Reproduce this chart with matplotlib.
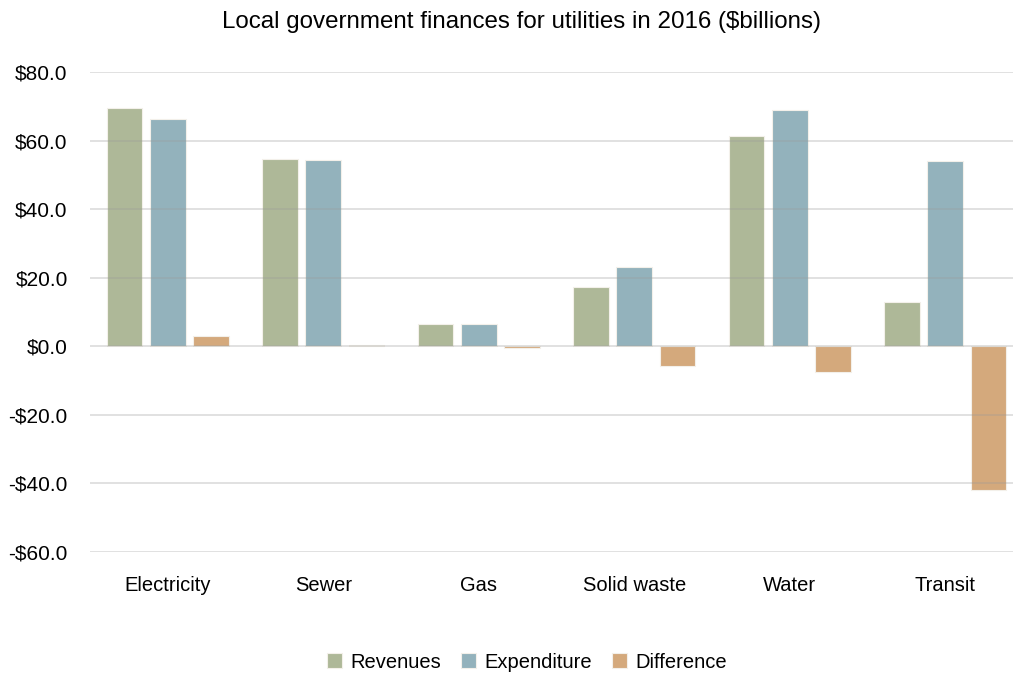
import numpy as np
import matplotlib
matplotlib.use("Agg")
import matplotlib.pyplot as plt
from matplotlib.ticker import FuncFormatter

plt.rcParams['font.family'] = ['Liberation Sans', 'DejaVu Sans']

# Local government utility finances, 2016, in $billions
categories = ["Electricity", "Sewer", "Gas", "Solid waste", "Water", "Transit"]
revenues = [69.5, 54.6, 6.6, 17.2, 61.2, 12.8]
expenditure = [66.3, 54.2, 6.6, 23.0, 68.8, 54.1]
difference = [3.1, 0.4, -0.4, -5.8, -7.6, -41.8]
series_names = ["Revenues", "Expenditure", "Difference"]
colors = ["#aeb898", "#93b2bc", "#d4a97c"]

fig = plt.figure(figsize=(10.13, 6.76), dpi=100)
ax = fig.add_axes([90 / 1013, 1 - 552 / 676, 923 / 1013, 480 / 676])

x = np.arange(len(categories))
pitch = 0.278
width = 0.23
for i, (vals, name, c) in enumerate(zip([revenues, expenditure, difference], series_names, colors)):
    ax.bar(x + (i - 1) * pitch, vals, width, color=c, label=name,
           edgecolor="#f3f0ea", linewidth=0.8, zorder=2)

ax.set_ylim(-60, 80)
ax.set_xlim(-0.5, 5.435)
ax.set_yticks(np.arange(-60, 81, 20))
ax.yaxis.set_major_formatter(FuncFormatter(lambda v, p: f"-${abs(v):.1f}" if v < 0 else f"${v:.1f}"))
ax.set_xticks(x)
ax.set_xticklabels(categories)
ax.grid(axis="y", color="#9a9a9a", alpha=0.35, linewidth=1.2, zorder=3)
ax.set_axisbelow(False)
ax.tick_params(axis="y", length=0, pad=16, labelsize=15)
ax.tick_params(axis="x", length=0, pad=17, labelsize=14.5)
for s in ax.spines.values():
    s.set_visible(False)

fig.text(522 / 1013, 1 - 22 / 676, "Local government finances for utilities in 2016 ($billions)",
         fontsize=17.4, ha="center", va="center")

fig.legend(loc="center", bbox_to_anchor=(527 / 1013, 1 - 662 / 676), ncol=3,
           frameon=False, fontsize=14.5, handlelength=0.75, handleheight=0.75,
           handletextpad=0.4, columnspacing=1.0)

fig.savefig("out.png", dpi=100)
